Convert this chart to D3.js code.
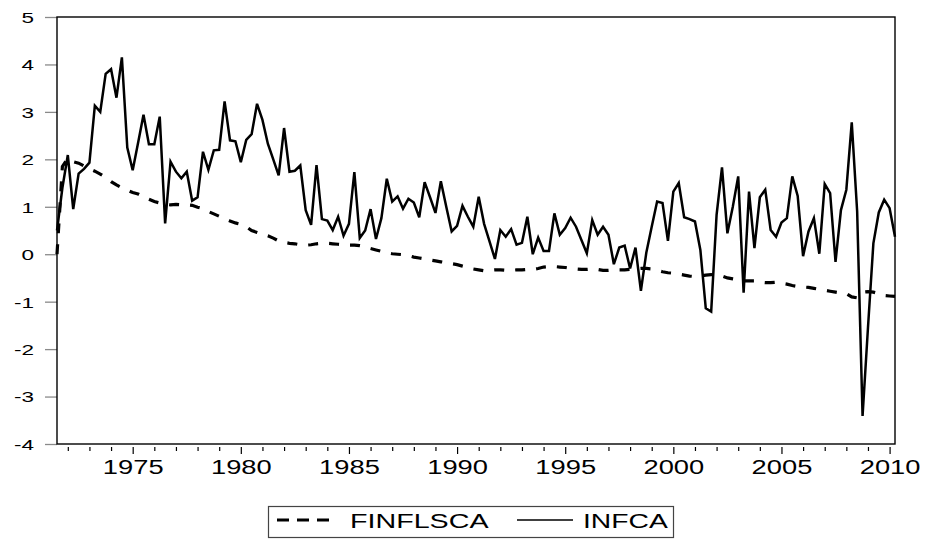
<!DOCTYPE html>
<html lang="en">
<head>
<meta charset="UTF-8">
<title>FINFLSCA and INFCA</title>
<script src="https://d3js.org/d3.v7.min.js"></script>
<style>
  * { margin: 0; padding: 0; box-sizing: border-box; }
  html, body { width: 100%; height: 100%; background: #fff; }
  svg { display: block; font-family: "Liberation Sans", Arial, sans-serif; }
</style>
</head>
<body>
<svg id="chart" width="926" height="541"></svg>
<script>
// quarterly data, first observation 1971Q3
const startYear = 1971;
const startQuarter = 3;

const infca = [
  0.5, 1.4, 2.09, 0.95, 1.7, 1.8, 1.93, 3.13, 3.0, 3.8,
  3.9, 3.3, 4.15, 2.25, 1.77, 2.35, 2.94, 2.32, 2.32, 2.9,
  0.65, 1.95, 1.74, 1.6, 1.74, 1.13, 1.2, 2.16, 1.78, 2.19,
  2.2, 3.22, 2.4, 2.38, 1.94, 2.41, 2.53, 3.17, 2.83, 2.33,
  2.0, 1.66, 2.66, 1.74, 1.76, 1.87, 0.93, 0.62, 1.88, 0.74,
  0.71, 0.51, 0.79, 0.39, 0.64, 1.73, 0.34, 0.5, 0.95, 0.32,
  0.76, 1.59, 1.11, 1.22, 0.96, 1.17, 1.09, 0.78, 1.52, 1.2,
  0.87, 1.54, 1.0, 0.48, 0.6, 1.02, 0.79, 0.58, 1.21, 0.64,
  0.27, -0.1, 0.51, 0.37, 0.53, 0.2, 0.24, 0.79, 0.0, 0.35,
  0.07, 0.07, 0.86, 0.41, 0.55, 0.77, 0.58, 0.3, 0.02, 0.72,
  0.41, 0.58, 0.41, -0.21, 0.14, 0.18, -0.3, 0.14, -0.77, 0.03,
  0.58, 1.11, 1.08, 0.28, 1.32, 1.5, 0.78, 0.74, 0.69, 0.09,
  -1.14, -1.21, 0.83, 1.83, 0.44, 1.0, 1.64, -0.81, 1.32, 0.13,
  1.2, 1.36, 0.51, 0.37, 0.67, 0.76, 1.64, 1.23, -0.04, 0.48,
  0.76, 0.01, 1.48, 1.29, -0.16, 0.93, 1.36, 2.78, 0.9, -3.41,
  -1.55, 0.23, 0.88, 1.15, 0.97, 0.37
];

const finflsca = [
  0.0, 1.85, 2.02, 1.95, 1.92, 1.86, 1.8, 1.75, 1.69, 1.62,
  1.53, 1.46, 1.4, 1.35, 1.3, 1.27, 1.21, 1.16, 1.11, 1.08,
  1.05, 1.04, 1.05, 1.04, 1.04, 1.03, 0.99, 0.96, 0.9, 0.85,
  0.8, 0.75, 0.7, 0.66, 0.63, 0.58, 0.5, 0.46, 0.42, 0.39,
  0.34, 0.28, 0.25, 0.23, 0.22, 0.2, 0.19, 0.2, 0.22, 0.23,
  0.23, 0.22, 0.21, 0.2, 0.19, 0.19, 0.18, 0.16, 0.12, 0.09,
  0.06, 0.03, 0.01, 0.0, -0.01, -0.03, -0.06, -0.08, -0.1, -0.12,
  -0.14, -0.16, -0.18, -0.2, -0.22, -0.25, -0.28, -0.31, -0.33, -0.35,
  -0.34, -0.33, -0.33, -0.34, -0.34, -0.33, -0.33, -0.32, -0.32, -0.3,
  -0.27, -0.26, -0.26, -0.27, -0.28, -0.3, -0.31, -0.32, -0.32, -0.31,
  -0.32, -0.34, -0.34, -0.33, -0.33, -0.33, -0.32, -0.31, -0.3, -0.3,
  -0.31, -0.34, -0.37, -0.39, -0.4, -0.42, -0.44, -0.46, -0.47, -0.46,
  -0.44, -0.43, -0.44, -0.46, -0.5, -0.52, -0.54, -0.56, -0.56, -0.56,
  -0.59, -0.6, -0.6, -0.59, -0.61, -0.63, -0.66, -0.68, -0.69, -0.7,
  -0.72, -0.74, -0.76, -0.78, -0.8, -0.82, -0.83, -0.9, -0.92, -0.8,
  -0.79, -0.8, -0.83, -0.87, -0.88, -0.89
];

const yTicks = [5, 4, 3, 2, 1, 0, -1, -2, -3, -4];
const yearTicks = d3.range(1972, 2011);
const labelYears = [1975, 1980, 1985, 1990, 1995, 2000, 2005, 2010];
const seriesNames = ["FINFLSCA", "INFCA"];

// time value of observation i
const dates = infca.map((d, i) => startYear + (startQuarter - 1 + i) / 4);

const svg = d3.select("#chart");
const plot = { left: 57, right: 895, top: 17, bottom: 444 };
const textStretch = 1.45;

const x = d3.scaleLinear()
    .domain([dates[0], dates[dates.length - 1]])
    .range([plot.left, plot.right]);

const y = d3.scaleLinear()
    .domain([-4, 5])
    .range([plot.bottom, plot.top]);

// y axis (plain hyphen for negatives, like the original)
const yAxis = svg.append("g")
    .attr("transform", `translate(${plot.left},0)`)
    .call(d3.axisLeft(y).tickValues(yTicks).tickSize(12).tickFormat(d => String(d)));
yAxis.select(".domain").remove();
yAxis.selectAll(".tick line").attr("stroke", "#8a8a8a").attr("stroke-width", 1.3);
yAxis.selectAll(".tick text")
    .attr("x", null)
    .attr("dy", "0.36em")
    .attr("fill", "#000")
    .style("font-size", "15px")
    .attr("transform", `translate(-23,0) scale(1.5,1)`);

// x axis
const xAxis = svg.append("g")
    .attr("transform", `translate(0,${plot.bottom})`)
    .call(d3.axisBottom(x).tickValues(yearTicks)
        .tickFormat(d => labelYears.includes(d) ? String(d) : ""));
xAxis.select(".domain").remove();
xAxis.selectAll(".tick line")
    .attr("y1", 3)
    .attr("y2", d => labelYears.includes(d) ? 10 : 7)
    .attr("stroke", "#000")
    .attr("stroke-width", 1.2);
xAxis.selectAll(".tick text")
    .attr("y", null)
    .attr("dy", null)
    .attr("fill", "#000")
    .style("font-size", "19.5px")
    .attr("transform", `translate(0,30) scale(1.4,1)`);

// frame
svg.append("rect")
    .attr("x", plot.left).attr("y", plot.top)
    .attr("width", plot.right - plot.left).attr("height", plot.bottom - plot.top)
    .attr("fill", "none")
    .attr("stroke", "#000")
    .attr("stroke-width", 1.4);

const line = d3.line()
    .x((d, i) => x(dates[i]))
    .y(d => y(d));

svg.append("path")
    .datum(finflsca)
    .attr("d", line)
    .attr("fill", "none")
    .attr("stroke", "#000")
    .attr("stroke-width", 3.2)
    .attr("stroke-dasharray", "10,11");

svg.append("path")
    .datum(infca)
    .attr("d", line)
    .attr("fill", "none")
    .attr("stroke", "#000")
    .attr("stroke-width", 2.5);

// legend
const legend = svg.append("g");
legend.append("rect")
    .attr("x", 268.5).attr("y", 506.5)
    .attr("width", 405).attr("height", 31)
    .attr("fill", "#fff")
    .attr("stroke", "#444")
    .attr("stroke-width", 1.2);

legend.append("line")
    .attr("x1", 277).attr("x2", 331)
    .attr("y1", 520).attr("y2", 520)
    .attr("stroke", "#000")
    .attr("stroke-width", 3.2)
    .attr("stroke-dasharray", "12,8");
legend.append("text")
    .attr("transform", `translate(350,527.5) scale(${textStretch + 0.02},1)`)
    .style("font-size", "19.5px")
    .text(seriesNames[0]);

legend.append("line")
    .attr("x1", 517).attr("x2", 573)
    .attr("y1", 520).attr("y2", 520)
    .attr("stroke", "#000")
    .attr("stroke-width", 1.6);
legend.append("text")
    .attr("transform", `translate(583,527.5) scale(${textStretch},1)`)
    .style("font-size", "19.5px")
    .text(seriesNames[1]);
</script>
</body>
</html>
